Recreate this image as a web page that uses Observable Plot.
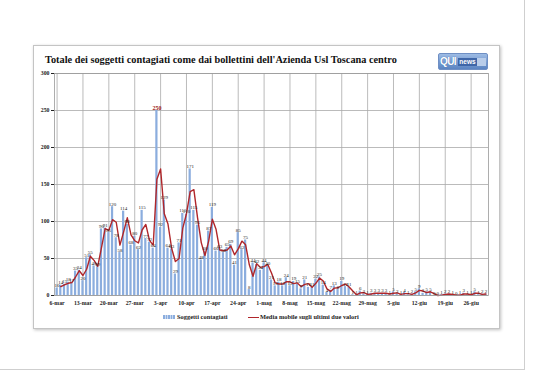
<!DOCTYPE html>
<html>
<head>
<meta charset="utf-8">
<script src="https://cdn.jsdelivr.net/npm/d3@7"></script>
<script src="https://cdn.jsdelivr.net/npm/@observablehq/plot@0.6"></script>
<style>
  body { margin: 0; background: #fff; }
  #page { position: relative; width: 538px; height: 380px; overflow: hidden; background: #fff; font-family: "Liberation Serif", "DejaVu Serif", serif; }
  #frame { position: absolute; left: 33px; top: 45px; width: 465px; height: 282px; border: 1px solid #c4c4c4; box-shadow: 1px 1px 3px rgba(0,0,0,0.25); background: #fff; }
  #title { position: absolute; left: 45px; top: 54px; font-size: 10.3px; font-weight: bold; color: #111; white-space: nowrap; }
  #logo { position: absolute; left: 438px; top: 53px; width: 48px; height: 15px; border-radius: 2px; background: linear-gradient(#9dbbe4, #5b84c2); border: 1px solid #6f8fc4; overflow: hidden; font-family: "Liberation Sans", sans-serif; }
  #logo .q { position: absolute; left: 1px; top: 0px; font-size: 10px; font-weight: bold; color: #fff; line-height: 15px; letter-spacing: -0.6px; text-shadow: 0 0 1px #2d5aa0; }
  #logo .n { position: absolute; left: 19px; top: 4px; height: 8px; width: 19px; font-size: 6.5px; font-weight: bold; color: #fff; line-height: 8px; background: #3f66a8; text-align: center; }
  #logo .t { position: absolute; left: 38px; top: 4px; height: 8px; width: 9px; background: #b9cdea; }
  #chart { position: absolute; left: 0; top: 0; }
  .leg { position: absolute; font-size: 6.4px; font-weight: bold; color: #222; white-space: nowrap; line-height: 8px; }
  #sw1 { position: absolute; left: 163px; top: 315px; width: 12px; height: 4px; background: repeating-linear-gradient(90deg, #8badde 0 1.5px, #c9d9f0 1.5px 2.5px); }
  #sw2 { position: absolute; left: 248px; top: 316.5px; width: 11px; height: 1.6px; background: #b0262a; }
  #edgeR { position: absolute; left: 524px; top: 0; width: 1px; height: 370px; background: #cfcfcf; }
  #edgeB { position: absolute; left: 0; top: 369px; width: 525px; height: 1px; background: #cfcfcf; }
</style>
</head>
<body>
<div id="page">
  <div id="edgeR"></div>
  <div id="edgeB"></div>
  <div id="frame"></div>
  <div id="title">Totale dei soggetti contagiati come dai bollettini dell'Azienda Usl Toscana centro</div>
  <div id="logo"><span class="q">QUI</span><span class="n">news</span><span class="t"></span></div>
  <div id="chart"></div>
  <div id="sw1"></div>
  <div class="leg" style="left:177px; top:313px;">Soggetti contagiati</div>
  <div id="sw2"></div>
  <div class="leg" style="left:260px; top:313px;">Media mobile sugli ultimi due valori</div>
</div>
<script>
// Daily values, 6 March – 30 June 2020
const marchValues = [10,14,15,18,17,33,34,20,51,55,40,39,90,91,85,120,78,58,114,96,68,80,62,115,77,72];
const aprilValues = [64,250,92,129,64,63,29,71,111,110,171,115,95,48,60,87,119,60,63,58,65,69,41,85,62,75,8,44,42,34];
const mayValues   = [44,40,21,13,18,13,24,13,19,15,9,21,11,11,22,25,14,4,7,13,8,19,12,11,1,1,6,2,1,3,3];
const juneValues  = [3,3,3,1,5,2,1,4,1,2,5,9,3,5,5,0,0,1,2,2,1,0,1,3,1,1,5,1,2,2];
const tickLabels  = ["6-mar","13-mar","20-mar","27-mar","3-apr","10-apr","17-apr","24-apr","1-mag","8-mag","15-mag","22-mag","29-mag","5-giu","12-giu","19-giu","26-giu"];
const yTicks = [0, 50, 100, 150, 200, 250, 300];

const values = [...marchValues, ...aprilValues, ...mayValues, ...juneValues];
const startDate = new Date(Date.UTC(2020, 2, 6));
const dates = values.map((_, i) => d3.utcDay.offset(startDate, i));
const data = values.map((v, i) => ({date: dates[i], value: v}));
const weekTicks = dates.filter((_, i) => i % 7 === 0);
const labelMap = new Map(weekTicks.map((d, i) => [+d, tickLabels[i]]));
const maxVal = d3.max(values);

const chart = Plot.plot({
  width: 538,
  height: 380,
  marginLeft: 54,
  marginRight: 50,
  marginTop: 73,
  marginBottom: 85,
  style: {background: "transparent", fontFamily: "'Liberation Serif', serif", fontSize: "5.8px", fontWeight: "bold", color: "#222", overflow: "visible"},
  x: {type: "band", domain: dates, padding: 0.4, ticks: weekTicks, tickFormat: d => labelMap.get(+d) ?? "", tickSize: 0, tickPadding: 5, label: null},
  y: {domain: [0, 300], ticks: yTicks, tickSize: 3, tickPadding: 2, label: null},
  marks: [
    Plot.ruleY(yTicks, {stroke: "#a9a9a9", strokeWidth: 0.8}),
    Plot.ruleX(weekTicks, {stroke: "#a9a9a9", strokeWidth: 0.8}),
    Plot.barY(data, {x: "date", y: "value", fill: "#8badde"}),
    Plot.lineY(data, Plot.windowY({k: 2, anchor: "end", strict: true}, {x: "date", y: "value", stroke: "#b0262a", strokeWidth: 1.4})),
    Plot.text(data, {filter: d => d.value !== maxVal, x: "date", y: "value", text: d => String(d.value), lineAnchor: "bottom", dy: -1, fontSize: 5, fontWeight: "normal", fill: "#222"}),
    Plot.text(data, Plot.selectMaxY({x: "date", y: "value", text: d => String(d.value), lineAnchor: "bottom", dy: -1, fontSize: 6, fontWeight: "bold", fill: "#a01c1c"})),
    Plot.frame({stroke: "#9a9a9a", strokeWidth: 0.8})
  ]
});
document.getElementById("chart").appendChild(chart);
</script>
</body>
</html>
